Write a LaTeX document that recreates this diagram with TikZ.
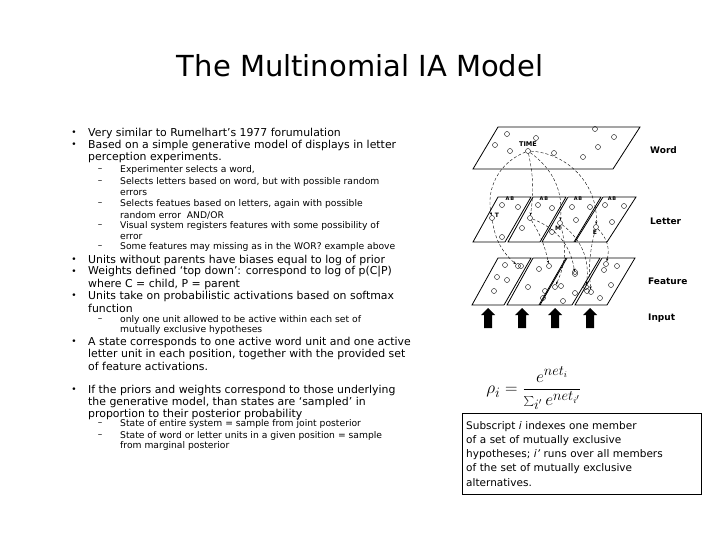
\documentclass[tikz,border=0pt]{standalone}
\usepackage{fontspec}
\setmainfont{DejaVu Sans}
\usetikzlibrary{arrows.meta}
\begin{document}
\begin{tikzpicture}[x=1pt,y=-1pt,
 l1/.style={anchor=west,inner sep=0,font=\fontsize{10.9}{12}\selectfont},
 l2/.style={anchor=west,inner sep=0,font=\fontsize{9.2}{10}\selectfont},
 bul/.style={inner sep=0,font=\fontsize{9}{10}\selectfont},
 pl/.style={draw,thick},
 u/.style={draw,circle,inner sep=0,minimum size=5pt},
 cn/.style={densely dashed,thin,->,>={Stealth[length=3pt]}},
 lab/.style={anchor=west,inner sep=0,font=\fontsize{9}{10}\selectfont\bfseries}]
\useasboundingbox (0,0) rectangle (720,540);
\node[inner sep=0,font=\fontsize{29}{32}\selectfont] (title) at (360,66) {The Multinomial IA Model};
% bullets
\foreach \y in {133,145,260,272,296,342,390} \node[bul] at (74,\y) {•};
\foreach \y in {170,182,204,226,247,320,424,436} \node[bul] at (100,\y) {–};
\node[l1] (a1) at (88,133) {Very similar to Rumelhart’s 1977 forumulation};
\node[l1] (a2) at (88,145) {Based on a simple generative model of displays in letter};
\node[l1] (a3) at (88,157) {perception experiments.};
\node[l2] (b1) at (120,170) {Experimenter selects a word,};
\node[l2] (b2) at (120,182) {Selects letters based on word, but with possible random};
\node[l2] (b3) at (120,193) {errors};
\node[l2] (b4) at (120,204) {Selects featues based on letters, again with possible};
\node[l2] (b5) at (120,215) {random error\ \ AND/OR};
\node[l2] (b6) at (120,226) {Visual system registers features with some possibility of};
\node[l2] (b7) at (120,237) {error};
\node[l2] (b8) at (120,247) {Some features may missing as in the WOR? example above};
\node[l1] (c1) at (88,260) {Units without parents have biases equal to log of prior};
\node[l1] (c2) at (88,272) {Weights defined ‘top down’: correspond to log of p(C|P)};
\node[l1] (c3) at (88,284) {where C = child, P = parent};
\node[l1] (c4) at (88,296) {Units take on probabilistic activations based on softmax};
\node[l1] (c5) at (88,308) {function};
\node[l2] (d1) at (120,320) {only one unit allowed to be active within each set of};
\node[l2] (d2) at (120,330) {mutually exclusive hypotheses};
\node[l1] (e1) at (88,342) {A state corresponds to one active word unit and one active};
\node[l1] (e2) at (88,354) {letter unit in each position, together with the provided set};
\node[l1] (e3) at (88,366) {of feature activations.};
\node[l1] (f1) at (88,390) {If the priors and weights correspond to those underlying};
\node[l1] (f2) at (88,402) {the generative model, than states are ‘sampled’ in};
\node[l1] (f3) at (88,414) {proportion to their posterior probability};
\node[l2] (g1) at (120,424) {State of entire system = sample from joint posterior};
\node[l2] (g2) at (120,436) {State of word or letter units in a given position = sample};
\node[l2] (g3) at (120,446) {from marginal posterior};
% figure planes
\draw[pl] (498,127) -- (640,127) -- (613,169) -- (473,169) -- cycle;
\foreach \t/\b in {498/473,533/508,568/542,603/575}
  \draw[pl] (\t,197) -- (\t+33,197) -- (\b+32,242) -- (\b,242) -- cycle;
\foreach \t/\b in {498/472,533/507,567/540,602/575}
  \draw[pl] (\t,258) -- (\t+33,258) -- (\b+32,305) -- (\b,305) -- cycle;
% word units
\foreach \p in {(507,134),(536,138),(595,129),(614,137),(495,145),(510,151),(554,153),(598,147),(583,157)}
  \node[u] at \p {};
\node[u] (time) at (528,151) {};
\node[inner sep=0,font=\fontsize{6.5}{7}\selectfont\bfseries] at (528,144) {TIME};
% letter units
\foreach \p in {(502,205),(518,207),(538,205),(552,208),(522,228),(502,237),(572,207),(590,207),(576,220),(552,232),(605,205),(624,206),(612,222)}
  \node[u] at \p {};
\node[u] (lT) at (492,218) {};
\node[u] (lI) at (530,218) {};
\node[u] (lM) at (560,223) {};
\node[u] (lE) at (596,227) {};
\foreach \x in {505,539,573,607} \node[inner sep=0,font=\fontsize{5}{5}\selectfont\bfseries] at (\x+5,199) {A\,B};
\node[inner sep=0,font=\fontsize{6}{6}\selectfont\bfseries] at (497,215) {T};
\node[inner sep=0,font=\fontsize{6}{6}\selectfont\bfseries] at (558,228) {M};
\node[inner sep=0,font=\fontsize{6}{6}\selectfont\bfseries] at (595,232) {E};
% feature units
\foreach \p in {(505,265),(521,266),(497,277),(507,280),(494,291),(539,269),(528,287),(545,291),(543,298),(575,272),(561,286),(575,293),(563,301),(604,270),(617,266),(611,285),(587,291),(600,298)}
  \node[u] at \p {};
\node[u] (fa) at (518,266) {};
\node[u] (fb) at (549,266) {};
\node[u] (fc) at (575,274) {};
\node[u] (fd) at (606,264) {};
\node[u] (fe) at (555,287) {};
\node[u] (ff) at (586,287) {};
\node[u] (fg) at (591,292) {};
% connectors
\draw[cn] (time) to[bend right=40] (lT);
\draw[cn] (time) to[bend left=10] (lI);
\draw[cn] (time) to[bend left=30] (lM);
\draw[cn] (time) to[bend left=45] (lE);
\draw[cn] (lT) to[bend right=20] (fa);
\draw[cn] (lI) to[bend left=10] (fb);
\draw[cn] (lI) to[bend left=30] (fc);
\draw[cn] (lM) to[bend left=20] (fe);
\draw[cn] (lM) to[bend left=30] (ff);
\draw[cn] (lE) to[bend left=30] (fd);
\draw[cn] (lE) to[bend right=10] (fg);
% input arrows
\foreach \x in {488,522,555,590}
  \fill (\x-4,328) -- (\x-4,315) -- (\x-7,315) -- (\x,308) -- (\x+7,315) -- (\x+4,315) -- (\x+4,328) -- cycle;
\node[lab] (w) at (650,150) {Word};
\node[lab] (l) at (650,221) {Letter};
\node[lab] (fl) at (648,281) {Feature};
\node[lab] (in) at (648,318) {Input};
% formula
\node[inner sep=0,font=\fontsize{19}{22}\selectfont] (rho) at (534,388) {$\displaystyle\rho_i=\frac{e^{net_i}}{\sum_{i'}e^{net_{i'}}}$};
\node[draw,thin,anchor=north west,minimum width=239pt,minimum height=81pt,inner sep=4pt,align=left,text width=231pt,font=\fontsize{10.5}{14.3}\selectfont] (box) at (462,413)
 {Subscript \textit{i} indexes one member\\of a set of mutually exclusive\\hypotheses; \textit{i’} runs over all members\\of the set of mutually exclusive\\alternatives.};
\end{tikzpicture}
\end{document}
